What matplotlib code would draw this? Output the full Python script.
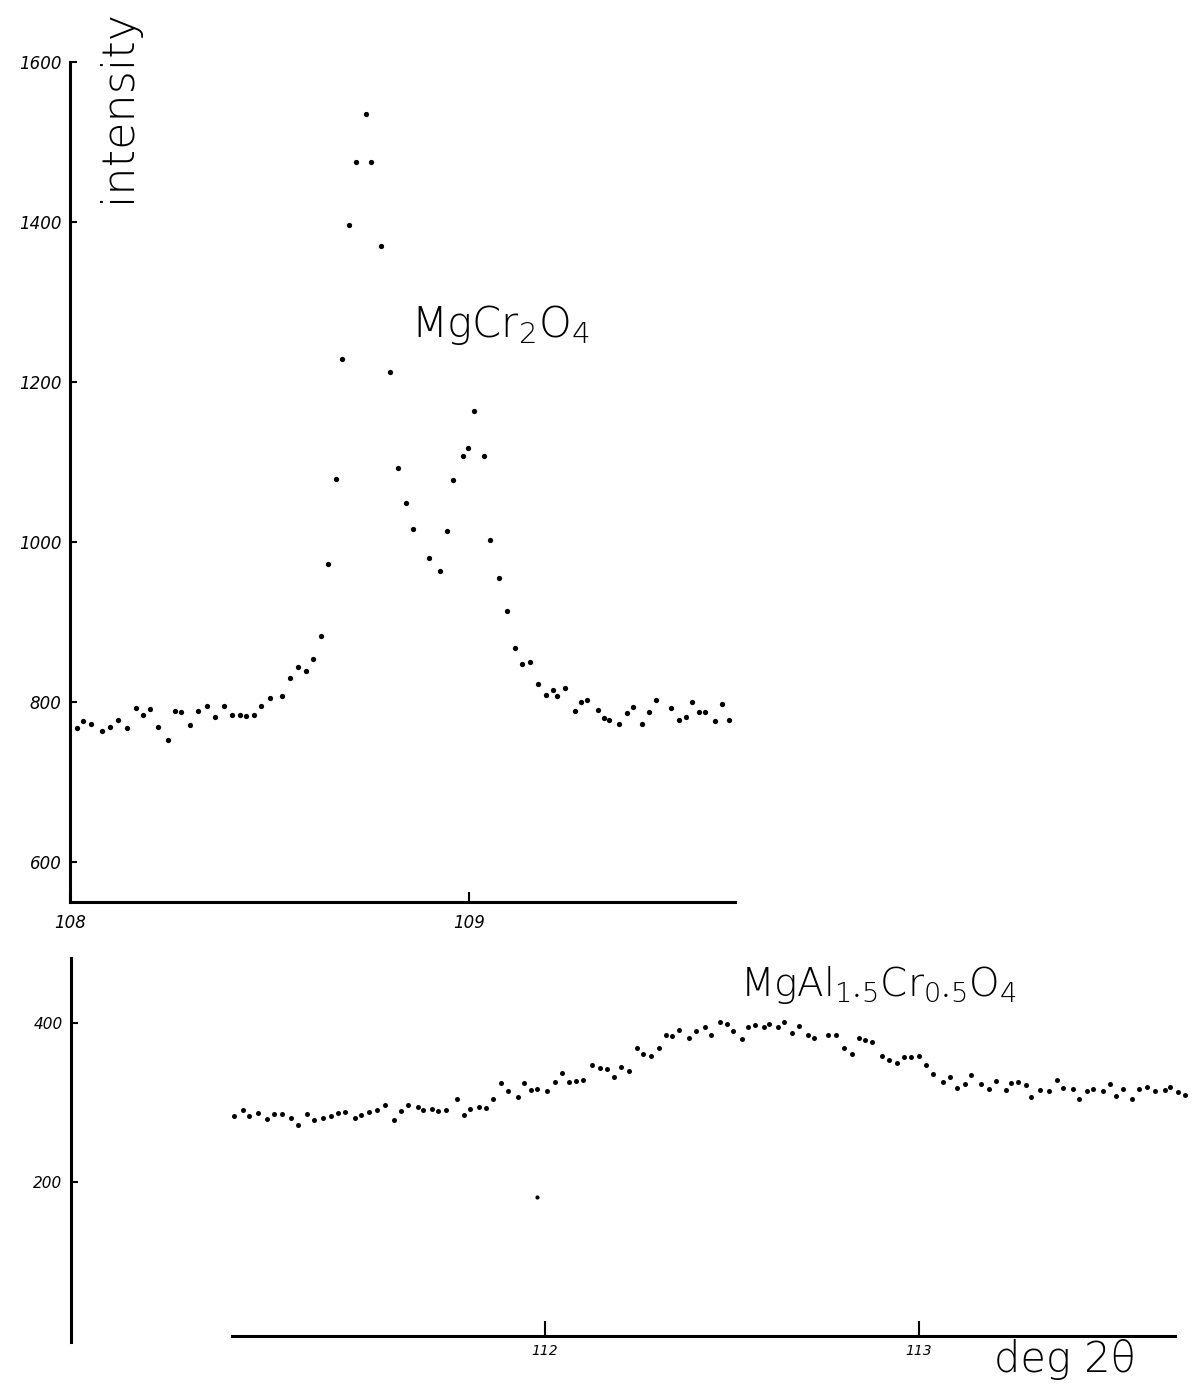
import matplotlib
matplotlib.use("Agg")
import matplotlib.pyplot as plt

plt.rcParams["mathtext.default"] = "regular"

# MgCr2O4 scan (deg 2theta, counts)
theta_cr = [108.018, 108.032, 108.053, 108.080, 108.100, 108.120, 108.142, 108.165,
            108.184, 108.201, 108.221, 108.246, 108.264, 108.277, 108.302, 108.322,
            108.343, 108.364, 108.385, 108.406, 108.425, 108.440, 108.462, 108.480,
            108.502, 108.531, 108.551, 108.571, 108.591, 108.609, 108.628, 108.647,
            108.667, 108.683, 108.699, 108.718, 108.741, 108.755, 108.779, 108.802,
            108.821, 108.843, 108.860, 108.901, 108.927, 108.944, 108.960, 108.986,
            108.997, 109.013, 109.037, 109.053, 109.075, 109.096, 109.116, 109.133,
            109.152, 109.173, 109.192, 109.211, 109.221, 109.242, 109.267, 109.281,
            109.296, 109.323, 109.338, 109.352, 109.376, 109.397, 109.411, 109.434,
            109.451, 109.470, 109.506, 109.527, 109.543, 109.559, 109.576, 109.591,
            109.617, 109.634, 109.652]
int_cr = [767, 776, 772, 764, 769, 778, 767, 792, 784, 791, 769, 753, 789, 787, 771, 789,
          795, 781, 795, 784, 784, 783, 784, 795, 805, 807, 830, 844, 839, 854, 882, 973,
          1079, 1229, 1396, 1475, 1535, 1475, 1370, 1212, 1092, 1049, 1016, 980, 964, 1014,
          1077, 1107, 1117, 1164, 1108, 1003, 955, 914, 867, 848, 850, 823, 809, 815, 808,
          818, 789, 800, 802, 790, 780, 777, 772, 786, 794, 772, 788, 803, 793, 777, 781,
          800, 788, 787, 776, 797, 778]

# MgAl1.5Cr0.5O4 scan
theta_al = [111.168, 111.193, 111.210, 111.232, 111.256, 111.277, 111.296, 111.320,
            111.339, 111.363, 111.383, 111.407, 111.427, 111.447, 111.465, 111.493,
            111.509, 111.529, 111.551, 111.573, 111.597, 111.615, 111.633, 111.660,
            111.673, 111.697, 111.713, 111.736, 111.765, 111.785, 111.801, 111.823,
            111.843, 111.862, 111.882, 111.901, 111.929, 111.943, 111.962, 111.979,
            112.005, 112.028, 112.047, 112.065, 112.084, 112.102, 112.126, 112.147,
            112.166, 112.186, 112.203, 112.226, 112.246, 112.263, 112.283, 112.306,
            112.324, 112.341, 112.358, 112.384, 112.405, 112.427, 112.445, 112.467,
            112.487, 112.503, 112.526, 112.543, 112.562, 112.586, 112.598, 112.623,
            112.639, 112.660, 112.678, 112.703, 112.719, 112.757, 112.777, 112.799,
            112.822, 112.840, 112.856, 112.874, 112.901, 112.920, 112.941, 112.961,
            112.979, 113.000, 113.018, 113.038, 113.064, 113.083, 113.103, 113.122,
            113.140, 113.166, 113.186, 113.206, 113.232, 113.245, 113.264, 113.286,
            113.300, 113.323, 113.347, 113.369, 113.385, 113.412, 113.429, 113.449,
            113.466, 113.491, 113.510, 113.528, 113.546, 113.570, 113.587, 113.610,
            113.631, 113.657, 113.672, 113.692, 113.712]
int_al = [283, 290, 283, 287, 279, 286, 286, 280, 272, 286, 278, 281, 283, 287, 288, 280,
          284, 288, 291, 297, 278, 289, 297, 294, 290, 292, 289, 291, 305, 284, 292, 294,
          293, 305, 324, 315, 307, 324, 316, 317, 315, 326, 337, 326, 327, 328, 347, 343,
          342, 332, 344, 339, 368, 361, 358, 368, 384, 383, 391, 381, 390, 394, 384, 401,
          398, 390, 379, 395, 397, 394, 398, 394, 401, 387, 396, 385, 381, 385, 384, 368,
          361, 381, 378, 376, 358, 353, 350, 357, 357, 358, 347, 336, 326, 332, 318, 323,
          334, 323, 317, 327, 316, 324, 326, 322, 307, 316, 315, 328, 318, 317, 304, 315,
          317, 315, 323, 308, 317, 305, 317, 320, 314, 316, 319, 313, 310]

# stray ink dot on the lower sheet
stray_theta = [111.979]
stray_int = [182]

W, H = 1192, 1389
fig = plt.figure(figsize=(W / 100, H / 100), dpi=100)


def box(x0, y0, x1, y1):
    # pixel box (top-left origin) -> figure fraction rect
    return [x0 / W, 1 - y1 / H, (x1 - x0) / W, (y1 - y0) / H]


tick_font = dict(family="DejaVu Sans", style="italic")
lw = 2.2

# upper panel
ax1 = fig.add_axes(box(70, 62, 735, 902))
ax1.plot(theta_cr, int_cr, "o", ls="none", ms=3.8, color="black", mec="none")
ax1.set_xlim(108, 109.667)
ax1.set_ylim(550, 1600)
for s in ["top", "right"]:
    ax1.spines[s].set_visible(False)
for s in ["left", "bottom"]:
    ax1.spines[s].set_linewidth(lw)
ax1.set_yticks([600, 800, 1000, 1200, 1400, 1600])
ax1.set_xticks([108, 109])
ax1.tick_params(axis="y", direction="in", length=5, width=1.5, pad=6)
ax1.tick_params(axis="x", direction="in", length=7, width=1.5, pad=9)
for t in ax1.get_yticklabels() + ax1.get_xticklabels():
    t.set_fontproperties(tick_font)
    t.set_fontsize(12)

# lower panel
ax2 = fig.add_axes(box(71, 958, 1192, 1346))
ax2.plot(theta_al, int_al, "o", ls="none", ms=3.6, color="black", mec="none")
ax2.plot(stray_theta, stray_int, "o", ls="none", ms=3.0, color="black", mec="none")
ax2.set_xlim(110.733, 113.730)
ax2.set_ylim(-5, 481)
for s in ["top", "right"]:
    ax2.spines[s].set_visible(False)
for s in ["left", "bottom"]:
    ax2.spines[s].set_linewidth(lw)
ax2.spines["left"].set_bounds(0, 481)
ax2.spines["bottom"].set_bounds(111.163, 113.684)
ax2.spines["bottom"].set_position(("data", 8))
ax2.set_yticks([200, 400])
ax2.set_xticks([112, 113])
ax2.tick_params(axis="y", direction="in", length=5, width=1.5, pad=6)
ax2.tick_params(axis="x", direction="in", length=11, width=1.5, pad=6)
for t in ax2.get_yticklabels():
    t.set_fontproperties(tick_font)
    t.set_fontsize(11)
for t in ax2.get_xticklabels():
    t.set_fontproperties(tick_font)
    t.set_fontsize(10)

# labels
fig.text(117 / W, 1 - 105 / H, "intensity", rotation=90, ha="center", va="center",
         fontsize=32, fontweight="light")
fig.text(500 / W, 1 - 325 / H, r"MgCr$_2$O$_4$", ha="center", va="center",
         fontsize=30, fontweight="light")
fig.text(878 / W, 1 - 985 / H, r"MgAl$_{1\!\cdot\!5}$Cr$_{0\!\cdot\!5}$O$_4$",
         ha="center", va="center", fontsize=28, fontweight="light")
fig.text(1065 / W, 1 - 1360 / H, "deg 2θ", ha="center", va="center",
         fontsize=30, fontweight="light")

fig.savefig("out.png", dpi=100)
